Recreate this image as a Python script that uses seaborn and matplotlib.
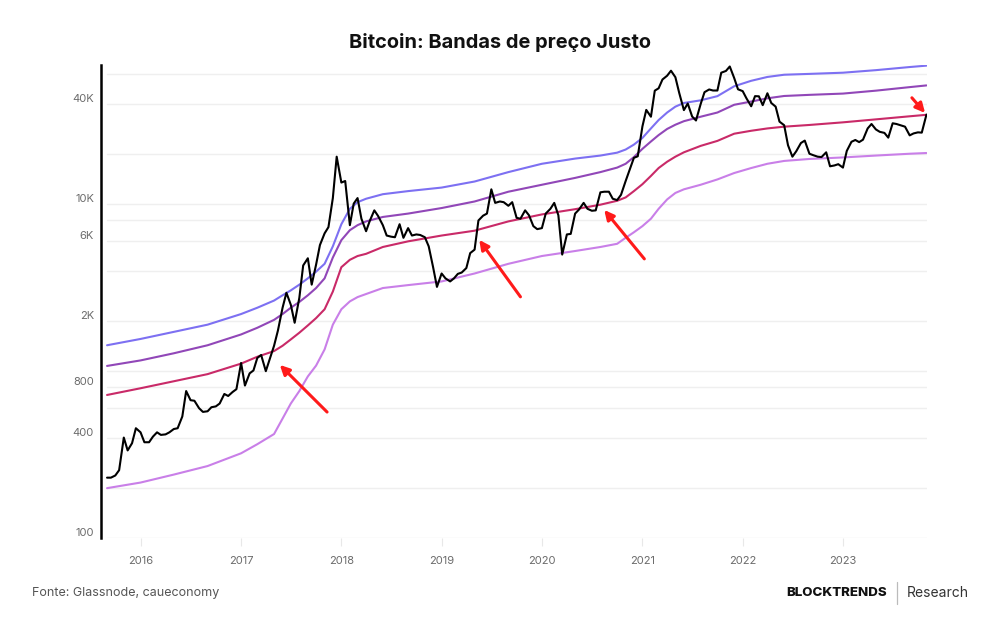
import pandas as pd
import matplotlib
matplotlib.use("Agg")
import matplotlib.pyplot as plt
import matplotlib.dates as mdates
import matplotlib.transforms as mtransforms
from matplotlib.ticker import FixedLocator, NullLocator
import seaborn as sns

# BTC price, sampled on the 1st and 15th of each month (Sep 2015 -> Nov 2023)
price = [
    230, 230, 237, 255, 400, 335, 370, 455,  # 2015
    430, 375, 375, 405, 430, 415, 418, 430, 450, 455, 535, 760,
    670, 665, 600, 570, 575, 608, 615, 640, 730, 710, 750, 780,  # 2016
    1120, 820, 970, 1010, 1200, 1250, 1000, 1180, 1420, 1750, 2400, 2950,
    2500, 1950, 2750, 4300, 4750, 3300, 4350, 5700, 6700, 7300, 10900, 19300,  # 2017
    13500, 13800, 7500, 10100, 10900, 8200, 6900, 8000, 9200, 8500, 7500, 6500,
    6400, 6350, 7600, 6300, 7200, 6500, 6600, 6550, 6350, 5600, 4200, 3200,  # 2018
    3850, 3600, 3450, 3600, 3830, 3900, 4150, 5100, 5350, 8000, 8550, 8800,
    12300, 10200, 10400, 10300, 9800, 10300, 8300, 8200, 9200, 8600, 7400, 7100,  # 2019
    7200, 8800, 9400, 10200, 8600, 5000, 6600, 6650, 8800, 9300, 10200, 9400,
    9150, 9200, 11800, 11900, 11900, 10800, 10600, 11400, 13800, 16000, 19000, 19400,  # 2020
    29300, 36800, 33500, 48000, 49600, 56000, 59000, 63200, 57800, 46500, 36700, 40200,
    33600, 31800, 39900, 47000, 48800, 48100, 48100, 61500, 63000, 67000, 57200, 48900,  # 2021
    47700, 43100, 38700, 44500, 44400, 39300, 46300, 40500, 38500, 31300, 29800, 22600,
    19300, 20800, 23300, 24100, 20100, 19700, 19300, 19200, 20500, 16900, 17100, 17400,  # 2022
    16600, 20900, 23700, 24300, 23600, 24400, 28500, 30300, 28100, 27200, 26800, 25100,
    30600, 30300, 29700, 29200, 25900, 26600, 27000, 26900, 34500,  # 2023
]

# fair price bands, denser sampling where they climb fast
band_dates = [
    "2015-09-01", "2016-01-01", "2016-05-01", "2016-09-01",
    "2017-01-01", "2017-03-01", "2017-05-01", "2017-06-01", "2017-07-01",
    "2017-08-01", "2017-09-01", "2017-10-01", "2017-11-01", "2017-12-01",
    "2018-01-01", "2018-02-01", "2018-03-01", "2018-04-01", "2018-06-01", "2018-09-01",
    "2019-01-01", "2019-05-01", "2019-09-01",
    "2020-01-01", "2020-05-01", "2020-08-01", "2020-10-01", "2020-11-01", "2020-12-01",
    "2021-01-01", "2021-02-01", "2021-03-01", "2021-04-01", "2021-05-01",
    "2021-06-01", "2021-08-01", "2021-10-01", "2021-12-01",
    "2022-02-01", "2022-04-01", "2022-06-01", "2022-09-01",
    "2023-01-01", "2023-05-01", "2023-09-01", "2023-11-01",
]
band_top = [
    1430, 1560, 1720, 1900,
    2200, 2400, 2650, 2850, 3050,
    3300, 3600, 3950, 4400, 5600,
    7600, 9400, 10300, 10800, 11500, 12000,
    12600, 13700, 15600,
    17500, 18800, 19600, 20400, 21300, 22800,
    25000, 28500, 32000, 35500, 38500,
    40500, 42000, 44500, 51000,
    55000, 58000, 59800, 60500,
    61500, 63700, 66500, 67800,
]
band_upper = [
    1075, 1160, 1280, 1430,
    1660, 1820, 2030, 2200, 2400,
    2600, 2850, 3150, 3600, 4800,
    6100, 7000, 7500, 7900, 8400, 8800,
    9500, 10400, 11900,
    13100, 14400, 15600, 16600, 17500, 19200,
    21500, 23800, 26000, 28300, 30000,
    31500, 33500, 35500, 39500,
    41300, 43200, 44600, 45300,
    46100, 48000, 50400, 51600,
]
band_mid = [
    720, 790, 870, 960,
    1110, 1220, 1320, 1420, 1550,
    1700, 1880, 2080, 2350, 3000,
    4200, 4650, 4900, 5050, 5550, 6000,
    6500, 6950, 7900,
    8700, 9350, 9950, 10500, 11000, 12000,
    13200, 14800, 16500, 18000, 19300,
    20500, 22400, 24000, 26500,
    27600, 28500, 29200, 29900,
    31000, 32300, 33700, 34400,
]
band_low = [
    199, 215, 240, 270,
    322, 365, 420, 520, 640,
    760, 930, 1080, 1350, 1900,
    2350, 2620, 2780, 2900, 3150, 3280,
    3450, 3850, 4400,
    4900, 5250, 5550, 5800, 6300, 6800,
    7400, 8200, 9400, 10700, 11700,
    12300, 13100, 14100, 15400,
    16500, 17500, 18200, 18700,
    19100, 19600, 20100, 20300,
]

grid_values = [100, 200, 400, 600, 800, 1000, 2000, 4000, 6000, 8000,
               10000, 20000, 40000, 60000]
labels_shown = {100: "100", 400: "400", 800: "800", 2000: "2K",
                6000: "6K", 10000: "10K", 40000: "40K"}

# arrows (tail -> head) pointing at the price touching the mid band
arrows = [
    (("2017-11-10", 569), ("2017-05-22", 1090)),
    (("2019-10-15", 2790), ("2019-05-18", 6120)),
    (("2021-01-08", 4710), ("2020-08-15", 9250)),
    (("2023-09-09", 43500), ("2023-10-27", 35300)),
]

price_df = pd.DataFrame({
    "date": pd.date_range("2015-09-01", periods=len(price), freq="SMS"),
    "price": price,
})
bands = pd.concat([
    pd.DataFrame({"date": pd.to_datetime(band_dates), "value": vals, "band": name})
    for name, vals in [("top", band_top), ("upper", band_upper),
                       ("mid", band_mid), ("low", band_low)]
])
palette = {"top": "#7d70f2", "upper": "#9147b8", "mid": "#c92a68", "low": "#c97fe8"}

sns.set_theme(style="white")
plt.rcParams["font.family"] = ["Inter", "DejaVu Sans"]

fig = plt.figure(figsize=(10, 6.3), dpi=100)
ax = fig.add_axes([0.101, 0.146, 0.826, 0.751])

for yv in grid_values:
    ax.axhline(yv, xmin=0.007, color="#efefef", lw=1, zorder=0)

sns.lineplot(data=bands, x="date", y="value", hue="band", palette=palette,
             lw=1.5, legend=False, ax=ax, zorder=2)
sns.lineplot(data=price_df, x="date", y="price", color="black", lw=1.5,
             ax=ax, zorder=3)

for (t_date, t_val), (h_date, h_val) in arrows:
    ax.annotate("", xy=(pd.Timestamp(h_date), h_val),
                xytext=(pd.Timestamp(t_date), t_val),
                arrowprops=dict(arrowstyle="-|>", color="#ff1a1a", lw=2.2,
                                mutation_scale=14, shrinkA=0, shrinkB=0),
                zorder=4)

ax.set_yscale("log")
ax.set_ylim(100, 68500)
ax.set_xlim(pd.Timestamp("2015-08-10"), pd.Timestamp("2023-11-03"))

ax.yaxis.set_major_locator(FixedLocator(grid_values))
ax.yaxis.set_minor_locator(NullLocator())
ax.set_yticklabels([labels_shown.get(v, "") for v in grid_values])
ax.tick_params(axis="y", length=0, pad=5, labelsize=8, labelcolor="#6b6b6b")
offset = mtransforms.ScaledTranslation(0, 0.06, fig.dpi_scale_trans)
for lab in ax.get_yticklabels():
    lab.set_transform(lab.get_transform() + offset)

ax.xaxis.set_major_locator(mdates.YearLocator())
ax.xaxis.set_major_formatter(mdates.DateFormatter("%Y"))
ax.tick_params(axis="x", length=6, width=0.8, color="#e8e8e8", pad=7,
               labelsize=8, labelcolor="#6b6b6b", bottom=True)

ax.set_xlabel("")
ax.set_ylabel("")
for side in ["top", "right", "bottom"]:
    ax.spines[side].set_visible(False)
ax.spines["left"].set_color("black")
ax.spines["left"].set_linewidth(1.8)

fig.text(0.5, 0.933, "Bitcoin: Bandas de preço Justo", ha="center", va="center",
         fontsize=14.4, fontweight="bold", color="#111111")
fig.text(0.032, 0.059, "Fonte: Glassnode, caueconomy", ha="left", va="center",
         fontsize=9, color="#555555")
fig.text(0.887, 0.059, "BLOCKTRENDS", ha="right", va="center",
         fontsize=9.6, fontweight="heavy", color="#111111")
fig.add_artist(plt.Line2D([0.897, 0.897], [0.042, 0.076], color="#bbbbbb", lw=0.9))
fig.text(0.907, 0.059, "Research", ha="left", va="center",
         fontsize=10, color="#333333")

fig.savefig("out.png", dpi=100)
